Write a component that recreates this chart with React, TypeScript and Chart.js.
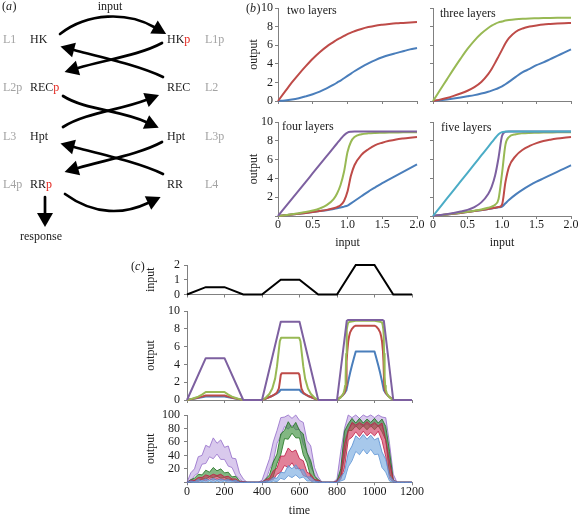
import React, { useEffect, useRef } from 'react';
import { Chart, registerables } from 'chart.js';

Chart.register(...registerables);

const SERIF = '"Liberation Serif", "Times New Roman", Times, serif';
const TEXT = '#1a1a1a';
const GREY_TEXT = '#a3a3a3';
const RED_TEXT = '#e3261f';
const AXIS = '#808080';

const BLUE = '#4a7ebb';
const RED = '#be4b48';
const GREEN = '#98b954';
const PURPLE = '#7d60a0';
const CYAN = '#4bacc6';

// ---------- panel (b): output vs input ----------
const B_INPUT = [0, 0.1, 0.2, 0.3, 0.4, 0.5, 0.6, 0.7, 0.8, 0.85, 0.9, 0.95, 1.0, 1.05, 1.1, 1.2, 1.3, 1.4, 1.5, 1.6, 1.7, 1.8, 1.9, 2.0];

const TWO_RED = [0, 1.0, 2.0, 2.9, 3.75, 4.55, 5.25, 5.85, 6.35, 6.6, 6.8, 7.0, 7.2, 7.35, 7.5, 7.75, 7.95, 8.1, 8.2, 8.28, 8.35, 8.4, 8.45, 8.5];
const TWO_BLUE = [0, 0.05, 0.15, 0.3, 0.5, 0.72, 1.0, 1.35, 1.75, 1.98, 2.2, 2.45, 2.7, 2.95, 3.2, 3.65, 4.05, 4.4, 4.7, 4.95, 5.15, 5.35, 5.55, 5.7];

const THREE_GREEN = [0, 1.15, 2.3, 3.45, 4.55, 5.6, 6.5, 7.25, 7.85, 8.1, 8.3, 8.45, 8.55, 8.65, 8.72, 8.8, 8.85, 8.88, 8.9, 8.92, 8.93, 8.94, 8.95, 8.95];
const THREE_RED = [0, 0.15, 0.33, 0.55, 0.8, 1.1, 1.5, 2.05, 2.9, 3.45, 4.1, 4.8, 5.5, 6.2, 6.75, 7.45, 7.8, 8.0, 8.12, 8.22, 8.28, 8.33, 8.37, 8.4];
const THREE_BLUE = [0, 0.08, 0.17, 0.27, 0.38, 0.5, 0.63, 0.8, 1.0, 1.12, 1.25, 1.4, 1.58, 1.8, 2.05, 2.6, 3.1, 3.45, 3.85, 4.15, 4.5, 4.85, 5.2, 5.55];

const FOUR_PURPLE = [0, 0.91, 1.82, 2.73, 3.64, 4.55, 5.46, 6.37, 7.28, 7.73, 8.18, 8.6, 8.88, 8.97, 9.0, 9.0, 9.0, 9.0, 9.0, 9.0, 9.0, 9.0, 9.0, 9.0];
const FOUR_GREEN = [0, 0.08, 0.18, 0.3, 0.42, 0.58, 0.8, 1.15, 1.8, 2.4, 3.3, 4.7, 6.8, 7.9, 8.4, 8.7, 8.8, 8.84, 8.86, 8.88, 8.89, 8.9, 8.9, 8.9];
const FOUR_RED = [0, 0.07, 0.15, 0.23, 0.32, 0.42, 0.53, 0.65, 0.82, 0.95, 1.15, 1.6, 2.6, 4.3, 5.4, 6.5, 7.1, 7.55, 7.8, 8.0, 8.15, 8.25, 8.33, 8.4];
const FOUR_BLUE = [0, 0.07, 0.15, 0.23, 0.32, 0.42, 0.52, 0.62, 0.75, 0.82, 0.9, 1.0, 1.1, 1.35, 1.6, 2.1, 2.6, 3.05, 3.5, 3.9, 4.3, 4.7, 5.1, 5.5];

const FIVE_CYAN = [0, 0.92, 1.84, 2.76, 3.68, 4.6, 5.52, 6.44, 7.36, 7.82, 8.28, 8.7, 8.92, 8.98, 9.0, 9.0, 9.0, 9.0, 9.0, 9.0, 9.0, 9.0, 9.0, 9.0];
const FIVE_PURPLE = [0, 0.1, 0.2, 0.32, 0.47, 0.65, 0.95, 1.45, 2.35, 3.1, 4.3, 6.2, 8.5, 8.95, 8.98, 8.98, 8.98, 8.98, 8.98, 8.98, 8.98, 8.98, 8.98, 8.98];
const FIVE_GREEN = [0, 0.08, 0.17, 0.26, 0.36, 0.46, 0.57, 0.7, 0.88, 1.0, 1.2, 1.8, 4.5, 7.6, 8.4, 8.7, 8.8, 8.84, 8.86, 8.88, 8.89, 8.9, 8.9, 8.9];
const FIVE_RED = [0, 0.07, 0.15, 0.23, 0.32, 0.42, 0.52, 0.63, 0.75, 0.82, 0.88, 0.95, 1.2, 3.6, 5.2, 6.4, 7.05, 7.45, 7.75, 7.97, 8.12, 8.24, 8.33, 8.4];
const FIVE_BLUE = [0, 0.07, 0.15, 0.23, 0.32, 0.42, 0.52, 0.62, 0.73, 0.8, 0.86, 0.92, 1.0, 1.35, 1.7, 2.3, 2.8, 3.25, 3.65, 4.0, 4.35, 4.7, 5.05, 5.4];

const B_X_TICKS = ['0', '0.5', '1.0', '1.5', '2.0'];
const B_Y_TICKS = ['0', '2', '4', '6', '8', '10'];
const B_Y_TICKS_NO_ZERO = ['', '2', '4', '6', '8', '10'];

// ---------- panel (c): time courses ----------
const C_INPUT_T = [0, 100, 200, 300, 400, 500, 600, 700, 800, 900, 1000, 1100, 1200];
const C_INPUT_V = [0, 0.5, 0.5, 0, 0, 1, 1, 0, 0, 2, 2, 0, 0];

const C_PURPLE_T = [0, 100, 200, 300, 400, 500, 600, 700, 800, 852, 860, 1042, 1050, 1100, 1200];
const C_PURPLE_V = [0, 4.7, 4.7, 0, 0, 8.8, 8.8, 0, 0, 8.9, 9.0, 9.0, 8.9, 0, 0];

const C_GREEN_T = [0, 20, 40, 60, 80, 100, 200, 220, 240, 260, 280, 300,
  400, 420, 440, 455, 470, 480, 488, 495, 502, 598, 605, 612, 620, 630, 645, 660, 680, 700,
  800, 820, 830, 835, 840, 843, 846, 849, 851, 853, 856, 860, 870, 900,
  1000, 1030, 1040, 1044, 1047, 1049, 1051, 1054, 1057, 1060, 1065, 1070, 1080, 1100, 1200];
const C_GREEN_V = [0, 0.1, 0.22, 0.38, 0.6, 0.9, 0.9, 0.6, 0.38, 0.22, 0.1, 0,
  0, 0.25, 0.7, 1.3, 2.4, 3.8, 5.3, 6.6, 7.0, 7.0, 6.6, 5.3, 3.8, 2.4, 1.3, 0.7, 0.25, 0,
  0, 0.3, 0.58, 0.8, 1.15, 1.6, 2.6, 5.2, 7.3, 7.95, 8.4, 8.7, 8.8, 8.9,
  8.9, 8.8, 8.7, 8.4, 7.95, 7.3, 5.2, 2.6, 1.6, 1.15, 0.8, 0.58, 0.3, 0, 0];

const C_RED_T = [0, 25, 50, 75, 100, 200, 225, 250, 275, 300,
  400, 450, 470, 480, 490, 495, 500, 505, 595, 600, 605, 610, 620, 630, 650, 700,
  800, 825, 840, 845, 848, 850, 852, 855, 860, 865, 870, 880, 890, 900,
  1000, 1010, 1020, 1030, 1035, 1040, 1045, 1048, 1050, 1052, 1055, 1060, 1075, 1100, 1200];
const C_RED_V = [0, 0.1, 0.22, 0.35, 0.5, 0.5, 0.35, 0.22, 0.1, 0,
  0, 0.42, 0.65, 0.85, 1.3, 2.0, 2.8, 3.0, 3.0, 2.8, 2.0, 1.3, 0.85, 0.65, 0.42, 0,
  0, 0.42, 0.82, 1.15, 1.6, 2.8, 4.3, 5.5, 6.6, 7.2, 7.6, 8.0, 8.25, 8.35,
  8.35, 8.25, 8.0, 7.6, 7.2, 6.6, 5.5, 4.3, 2.8, 1.6, 1.15, 0.82, 0.42, 0, 0];

const C_BLUE_T = [0, 50, 100, 200, 250, 300,
  400, 450, 480, 490, 500, 600, 610, 620, 650, 700,
  800, 825, 840, 850, 860, 870, 880, 890, 900,
  1000, 1010, 1020, 1030, 1040, 1050, 1060, 1075, 1100, 1200];
const C_BLUE_V = [0, 0.2, 0.38, 0.38, 0.2, 0,
  0, 0.42, 0.75, 0.9, 1.15, 1.15, 0.9, 0.75, 0.42, 0,
  0, 0.42, 0.75, 1.1, 2.1, 3.05, 3.9, 4.7, 5.45,
  5.45, 4.7, 3.9, 3.05, 2.1, 1.1, 0.75, 0.42, 0, 0];

// stochastic simulation: band of the noisy trace (low / high) on a 20-step time grid
const NOISE_T = [0, 20, 40, 60, 80, 100, 120, 140, 160, 180, 200, 220, 240, 260, 280, 300, 320, 340, 360, 380,
  400, 420, 440, 460, 480, 500, 520, 540, 560, 580, 600, 620, 640, 660, 680, 700, 720, 740, 760, 780,
  800, 820, 840, 860, 880, 900, 920, 940, 960, 980, 1000, 1020, 1040, 1060, 1080, 1100, 1120, 1140, 1160, 1180, 1200];
const N_PURPLE_HI = [0, 14, 20, 38, 40, 55, 52, 66, 58, 63, 52, 54, 36, 35, 14, 5, 0, 0, 0, 0,
  3, 19, 35, 60, 77, 96, 97, 100, 95, 100, 92, 89, 62, 54, 22, 8, 0, 0, 0, 0,
  5, 46, 80, 100, 96, 100, 95, 100, 97, 100, 96, 100, 97, 96, 58, 12, 0, 0, 0, 0, 0];
const N_PURPLE_LO = [0, 1, 10, 14, 27, 28, 38, 35, 42, 34, 34, 24, 22, 10, 5, 0, 0, 0, 0, 0,
  0, 3, 19, 31, 58, 69, 83, 79, 85, 78, 79, 57, 45, 23, 12, 0, 0, 0, 0, 0,
  0, 15, 60, 77, 87, 82, 87, 83, 87, 82, 87, 83, 85, 66, 35, 0, 0, 0, 0, 0, 0];
const N_GREEN_HI = [0, 4, 6, 12, 11, 18, 15, 22, 17, 20, 14, 15, 8, 9, 2, 1, 0, 0, 0, 0,
  0, 5, 11, 30, 42, 72, 77, 90, 81, 89, 77, 72, 44, 32, 9, 4, 0, 0, 0, 0,
  2, 20, 76, 87, 95, 88, 95, 88, 94, 89, 95, 88, 94, 83, 46, 4, 0, 0, 0, 0, 0];
const N_GREEN_LO = [0, 0, 2, 2, 5, 5, 8, 7, 9, 6, 7, 4, 4, 0, 1, 0, 0, 0, 0, 0,
  0, 0, 4, 8, 28, 41, 65, 64, 73, 66, 66, 41, 29, 8, 4, 0, 0, 0, 0, 0,
  0, 7, 38, 77, 77, 84, 78, 84, 78, 84, 78, 84, 75, 63, 12, 0, 0, 0, 0, 0, 0];
const N_RED_HI = [0, 3, 3, 7, 7, 11, 9, 12, 10, 12, 8, 9, 5, 5, 1, 1, 0, 0, 0, 0,
  0, 4, 6, 17, 21, 39, 39, 51, 45, 48, 35, 32, 15, 12, 4, 3, 0, 0, 0, 0,
  2, 10, 56, 77, 89, 85, 89, 85, 90, 85, 89, 84, 88, 62, 30, 4, 0, 0, 0, 0, 0];
const N_RED_LO = [0, 0, 2, 1, 4, 2, 5, 3, 5, 3, 4, 2, 3, 0, 1, 0, 0, 0, 0, 0,
  0, 0, 3, 4, 12, 15, 25, 22, 29, 20, 21, 10, 8, 2, 2, 0, 0, 0, 0, 0,
  0, 4, 22, 63, 67, 75, 68, 76, 69, 74, 69, 76, 62, 38, 6, 0, 0, 0, 0, 0, 0];
const N_BLUE_HI = [0, 2, 1, 4, 2, 5, 3, 6, 3, 5, 3, 4, 2, 3, 0, 0, 0, 0, 0, 0,
  0, 2, 2, 7, 6, 15, 14, 25, 20, 26, 18, 19, 8, 8, 2, 1, 0, 0, 0, 0,
  0, 8, 15, 44, 54, 69, 64, 71, 64, 70, 63, 66, 45, 34, 10, 3, 0, 0, 0, 0, 0];
const N_BLUE_LO = [0, 0, 0, 0, 1, 0, 2, 0, 2, 0, 2, 0, 1, 0, 0, 0, 0, 0, 0, 0,
  0, 0, 0, 2, 1, 6, 4, 10, 7, 11, 6, 8, 2, 2, 0, 0, 0, 0, 0, 0,
  0, 2, 4, 23, 32, 46, 41, 49, 42, 49, 41, 42, 22, 15, 2, 0, 0, 0, 0, 0, 0];

const C_X_TICKS = ['0', '200', '400', '600', '800', '1000', '1200'];
const C_IN_Y_TICKS = ['0', '1', '2'];
const C_OUT_Y_TICKS = ['0', '2', '4', '6', '8', '10'];
const C_NOISE_Y_TICKS = ['', '20', '40', '60', '80', '100'];

// ---------- layout helpers ----------
type Rect = { l: number; t: number; w: number; h: number };
type Plot = { l: number; t: number; r: number; b: number };
type AxisSpec = { min: number; max: number; step: number; labels?: string[]; title?: string; tickLen: number; pad: number };

const HALF_LINE = 7.2;
const FONT = { family: SERIF, size: 12 };

function zeroPad(s: any) {
  s.paddingLeft = 0; s.paddingRight = 0; s.paddingTop = 0; s.paddingBottom = 0;
}

function axis(spec: AxisSpec, fit: (s: any) => void) {
  return {
    type: 'linear',
    min: spec.min,
    max: spec.max,
    ticks: {
      stepSize: spec.step,
      display: !!spec.labels,
      padding: spec.pad,
      color: TEXT,
      font: FONT,
      maxRotation: 0,
      minRotation: 0,
      autoSkip: false,
      callback: (_v: any, i: number) => (spec.labels ? spec.labels[i] : ''),
    },
    grid: { display: true, drawOnChartArea: false, drawTicks: true, tickLength: spec.tickLen, color: AXIS, lineWidth: 1 },
    border: { display: true, color: AXIS, width: 1 },
    title: { display: !!spec.title, text: spec.title || '', color: TEXT, font: FONT, padding: 0 },
    afterFit: fit,
  };
}

function baseOptions(canvas: Rect, plot: Plot, xs: AxisSpec, ys: AxisSpec, yTitleX?: number) {
  const padLeft = ys.title && yTitleX !== undefined ? yTitleX - HALF_LINE - canvas.l : 0;
  const yWidth = plot.l - canvas.l - padLeft;
  const padTop = plot.t - canvas.t;
  const padRight = canvas.l + canvas.w - plot.r;
  const xHeight = canvas.t + canvas.h - plot.b;
  return {
    responsive: false,
    maintainAspectRatio: false,
    animation: false,
    devicePixelRatio: 1,
    events: [],
    layout: { padding: { left: padLeft, top: padTop, right: padRight, bottom: 0 } },
    plugins: { legend: { display: false }, tooltip: { enabled: false } },
    elements: { point: { radius: 0 } },
    scales: {
      x: axis(xs, (s: any) => { s.height = xHeight; zeroPad(s); }),
      y: axis(ys, (s: any) => { s.width = yWidth; zeroPad(s); }),
    },
  };
}

function pairs(xs: number[], ys: number[]) {
  return xs.map((x, i) => ({ x, y: ys[i] }));
}

function textPlugin(text: string, dx: number, dy: number) {
  return {
    id: 'panelText',
    afterDraw(chart: any) {
      const { ctx, chartArea } = chart;
      ctx.save();
      ctx.font = `12px ${SERIF}`;
      ctx.fillStyle = TEXT;
      ctx.textBaseline = 'middle';
      ctx.textAlign = 'left';
      ctx.fillText(text, chartArea.left + dx, chartArea.top + dy);
      ctx.restore();
    },
  };
}

// ---------- panel (b) definitions ----------
type BPanel = {
  title: string; dx: number; dy: number; canvas: Rect; plot: Plot;
  series: [number[], string][]; yLabels?: string[]; xLabels?: string[]; yTitle?: string; xTitle?: string;
};

const B_PANELS: BPanel[] = [
  { title: 'two layers', dx: 9, dy: 3, canvas: { l: 240, t: 0, w: 190, h: 110 }, plot: { l: 278, t: 8, r: 417, b: 101 },
    series: [[TWO_RED, RED], [TWO_BLUE, BLUE]], yLabels: B_Y_TICKS, yTitle: 'output' },
  { title: 'three layers', dx: 7, dy: 6, canvas: { l: 425, t: 0, w: 153, h: 110 }, plot: { l: 433, t: 8, r: 571, b: 101 },
    series: [[THREE_GREEN, GREEN], [THREE_RED, RED], [THREE_BLUE, BLUE]] },
  { title: 'four layers', dx: 4, dy: 4.5, canvas: { l: 240, t: 110, w: 190, h: 140 }, plot: { l: 278, t: 122, r: 417, b: 216 },
    series: [[FOUR_PURPLE, PURPLE], [FOUR_GREEN, GREEN], [FOUR_RED, RED], [FOUR_BLUE, BLUE]],
    yLabels: B_Y_TICKS_NO_ZERO, xLabels: B_X_TICKS, yTitle: 'output', xTitle: 'input' },
  { title: 'five layers', dx: 8, dy: 6, canvas: { l: 425, t: 110, w: 153, h: 140 }, plot: { l: 433, t: 122, r: 571, b: 216 },
    series: [[FIVE_CYAN, CYAN], [FIVE_PURPLE, PURPLE], [FIVE_GREEN, GREEN], [FIVE_RED, RED], [FIVE_BLUE, BLUE]],
    xLabels: B_X_TICKS, xTitle: 'input' },
];

function bConfig(p: BPanel) {
  const xs: AxisSpec = { min: 0, max: 2, step: 0.5, labels: p.xLabels, title: p.xTitle, tickLen: 3, pad: -1 };
  const ys: AxisSpec = { min: 0, max: 10, step: 2, labels: p.yLabels, title: p.yTitle, tickLen: 3, pad: 2 };
  return {
    type: 'line',
    data: {
      datasets: p.series.map(([vals, color]) => ({
        data: pairs(B_INPUT, vals),
        borderColor: color,
        borderWidth: 2,
        cubicInterpolationMode: 'monotone',
        pointRadius: 0,
        fill: false,
        clip: false,
      })),
    },
    options: baseOptions(p.canvas, p.plot, xs, ys, 254),
    plugins: [textPlugin(p.title, p.dx, p.dy)],
  };
}

// ---------- panel (c) definitions ----------
const C_TITLE_X = 151;
const C_IN_CANVAS: Rect = { l: 140, t: 255, w: 290, h: 45 };
const C_IN_PLOT: Plot = { l: 187, t: 265, r: 412, b: 294.5 };
const C_OUT_CANVAS: Rect = { l: 140, t: 300, w: 290, h: 106 };
const C_OUT_PLOT: Plot = { l: 187, t: 311, r: 412, b: 400 };
const C_NOISE_CANVAS: Rect = { l: 140, t: 404, w: 300, h: 114 };
const C_NOISE_PLOT: Plot = { l: 187, t: 415, r: 412, b: 482.3 };

function inputConfig() {
  const xs: AxisSpec = { min: 0, max: 1200, step: 200, tickLen: 3, pad: 0 };
  const ys: AxisSpec = { min: 0, max: 2, step: 1, labels: C_IN_Y_TICKS, title: 'input', tickLen: 3, pad: 4 };
  return {
    type: 'line',
    data: { datasets: [{ data: pairs(C_INPUT_T, C_INPUT_V), borderColor: '#000', borderWidth: 2, tension: 0, pointRadius: 0, clip: false }] },
    options: baseOptions(C_IN_CANVAS, C_IN_PLOT, xs, ys, C_TITLE_X),
  };
}

function outputConfig() {
  const xs: AxisSpec = { min: 0, max: 1200, step: 200, tickLen: 3, pad: 0 };
  const ys: AxisSpec = { min: 0, max: 10, step: 2, labels: C_OUT_Y_TICKS, title: 'output', tickLen: 3, pad: 4 };
  const line = (t: number[], v: number[], color: string) => ({
    data: pairs(t, v), borderColor: color, borderWidth: 2, tension: 0, pointRadius: 0, clip: false, borderJoinStyle: 'round',
  });
  return {
    type: 'line',
    data: {
      datasets: [
        line(C_PURPLE_T, C_PURPLE_V, PURPLE),
        line(C_GREEN_T, C_GREEN_V, GREEN),
        line(C_RED_T, C_RED_V, RED),
        line(C_BLUE_T, C_BLUE_V, BLUE),
      ],
    },
    options: baseOptions(C_OUT_CANVAS, C_OUT_PLOT, xs, ys, C_TITLE_X),
  };
}

function noiseConfig() {
  const xs: AxisSpec = { min: 0, max: 1200, step: 200, labels: C_X_TICKS, title: 'time', tickLen: 3, pad: -1 };
  const ys: AxisSpec = { min: 0, max: 100, step: 20, labels: C_NOISE_Y_TICKS, title: 'output', tickLen: 3, pad: 4 };
  const band = (hi: number[], lo: number[], fillColor: string, edge: string) => [
    { data: pairs(NOISE_T, hi), borderColor: edge, borderWidth: 1, backgroundColor: fillColor, fill: '+1', tension: 0, pointRadius: 0, clip: false },
    { data: pairs(NOISE_T, lo), borderColor: edge, borderWidth: 1, backgroundColor: fillColor, fill: false, tension: 0, pointRadius: 0, clip: false },
  ];
  return {
    type: 'line',
    data: {
      datasets: [
        ...band(N_BLUE_HI, N_BLUE_LO, 'rgba(120,170,225,0.65)', 'rgba(90,145,210,0.85)'),
        ...band(N_RED_HI, N_RED_LO, 'rgba(205,45,85,0.6)', 'rgba(190,30,70,0.85)'),
        ...band(N_GREEN_HI, N_GREEN_LO, 'rgba(46,135,46,0.6)', 'rgba(35,115,35,0.85)'),
        ...band(N_PURPLE_HI, N_PURPLE_LO, 'rgba(170,135,215,0.45)', 'rgba(145,105,200,0.8)'),
      ],
    },
    options: baseOptions(C_NOISE_CANVAS, C_NOISE_PLOT, xs, ys, C_TITLE_X),
  };
}

// ---------- panel (a): diagram ----------
type Pt = [number, number];
type Seg = [string, string];
const DIAGRAM_ROWS: { y: number; leftTag: string; left: Seg[]; right: Seg[]; rightTag: string }[] = [
  { y: 40, leftTag: 'L1', left: [['HK', TEXT]], right: [['HK', TEXT], ['p', RED_TEXT]], rightTag: 'L1p' },
  { y: 88, leftTag: 'L2p', left: [['REC', TEXT], ['p', RED_TEXT]], right: [['REC', TEXT]], rightTag: 'L2' },
  { y: 137, leftTag: 'L3', left: [['Hpt', TEXT]], right: [['Hpt', TEXT]], rightTag: 'L3p' },
  { y: 185, leftTag: 'L4p', left: [['RR', TEXT], ['p', RED_TEXT]], right: [['RR', TEXT]], rightTag: 'L4' },
];
const DIAGRAM_ARROWS: { p0: Pt; c1: Pt; c2: Pt; p3: Pt }[] = [
  { p0: [60, 34], c1: [88, 12], c2: [128, 12], p3: [154, 27] },
  { p0: [162, 43], c1: [140, 55], c2: [105, 60], p3: [78, 68] },
  { p0: [163, 77], c1: [140, 66], c2: [105, 58], p3: [74, 50] },
  { p0: [63, 96], c1: [85, 110], c2: [120, 110], p3: [146, 122] },
  { p0: [63, 127], c1: [85, 113], c2: [120, 110], p3: [146, 100] },
  { p0: [162, 142], c1: [140, 154], c2: [105, 160], p3: [78, 168] },
  { p0: [163, 174], c1: [140, 163], c2: [105, 155], p3: [74, 147] },
  { p0: [65, 194], c1: [95, 216], c2: [125, 214], p3: [148, 203] },
];

function richText(ctx: CanvasRenderingContext2D, segs: Seg[], x: number, y: number) {
  let cx = x;
  for (const [s, c] of segs) {
    ctx.fillStyle = c;
    ctx.fillText(s, cx, y);
    cx += ctx.measureText(s).width;
  }
}

function panelLetter(ctx: CanvasRenderingContext2D, letter: string, x: number, y: number) {
  ctx.fillStyle = TEXT;
  ctx.font = `12px ${SERIF}`;
  ctx.fillText('(', x, y);
  let w = ctx.measureText('(').width;
  ctx.font = `italic 12px ${SERIF}`;
  ctx.fillText(letter, x + w, y);
  w += ctx.measureText(letter).width + 0.5;
  ctx.font = `12px ${SERIF}`;
  ctx.fillText(')', x + w, y);
}

function head(ctx: CanvasRenderingContext2D, base: Pt, ang: number, len: number, hw: number) {
  const cos = Math.cos(ang), sin = Math.sin(ang);
  const tip: Pt = [base[0] + len * cos, base[1] + len * sin];
  ctx.beginPath();
  ctx.moveTo(tip[0], tip[1]);
  ctx.lineTo(base[0] - hw * sin, base[1] + hw * cos);
  ctx.lineTo(base[0] + hw * sin, base[1] - hw * cos);
  ctx.closePath();
  ctx.fill();
}

function drawDiagram(ctx: CanvasRenderingContext2D) {
  ctx.save();
  ctx.textBaseline = 'middle';
  ctx.textAlign = 'left';
  panelLetter(ctx, 'a', 2, 7);
  panelLetter(ctx, 'b', 246, 9);
  panelLetter(ctx, 'c', 131, 267);

  ctx.font = `12px ${SERIF}`;
  ctx.fillStyle = TEXT;
  ctx.textAlign = 'center';
  ctx.fillText('input', 110, 7);
  ctx.fillText('response', 41, 237);
  ctx.textAlign = 'left';
  for (const row of DIAGRAM_ROWS) {
    ctx.fillStyle = GREY_TEXT;
    ctx.fillText(row.leftTag, 3, row.y);
    ctx.fillText(row.rightTag, 205, row.y);
    richText(ctx, row.left, 30, row.y);
    richText(ctx, row.right, 167, row.y);
  }

  ctx.strokeStyle = '#000';
  ctx.fillStyle = '#000';
  ctx.lineWidth = 2.7;
  ctx.lineCap = 'round';
  for (const a of DIAGRAM_ARROWS) {
    ctx.beginPath();
    ctx.moveTo(a.p0[0], a.p0[1]);
    ctx.bezierCurveTo(a.c1[0], a.c1[1], a.c2[0], a.c2[1], a.p3[0], a.p3[1]);
    ctx.stroke();
    const ang = Math.atan2(a.p3[1] - a.c2[1], a.p3[0] - a.c2[0]);
    head(ctx, a.p3, ang, 14, 7.5);
  }
  // response arrow
  ctx.beginPath();
  ctx.moveTo(45, 197);
  ctx.lineTo(45, 214);
  ctx.stroke();
  head(ctx, [45, 213], Math.PI / 2, 14, 8);
  ctx.restore();
}

function diagramConfig() {
  return {
    type: 'scatter',
    data: { datasets: [] },
    options: {
      responsive: false,
      maintainAspectRatio: false,
      animation: false,
      devicePixelRatio: 1,
      events: [],
      plugins: { legend: { display: false }, tooltip: { enabled: false } },
      scales: { x: { display: false }, y: { display: false } },
    },
    plugins: [{ id: 'diagram', afterDraw: (chart: any) => drawDiagram(chart.ctx) }],
  };
}

// ---------- React ----------
function ChartCanvas({ rect, make }: { rect: Rect; make: () => any }) {
  const ref = useRef<HTMLCanvasElement | null>(null);
  useEffect(() => {
    if (!ref.current) return;
    const chart = new Chart(ref.current, make());
    return () => chart.destroy();
  }, []);
  return (
    <canvas
      ref={ref}
      width={rect.w}
      height={rect.h}
      style={{ position: 'absolute', left: rect.l, top: rect.t, width: rect.w, height: rect.h }}
    />
  );
}

export default function App() {
  return (
    <div style={{ position: 'absolute', left: 0, top: 0, width: 578, height: 517, overflow: 'hidden', background: '#fff' }}>
      <ChartCanvas rect={{ l: 0, t: 0, w: 578, h: 517 }} make={diagramConfig} />
      {B_PANELS.map((p) => (
        <ChartCanvas key={p.title} rect={p.canvas} make={() => bConfig(p)} />
      ))}
      <ChartCanvas rect={C_IN_CANVAS} make={inputConfig} />
      <ChartCanvas rect={C_OUT_CANVAS} make={outputConfig} />
      <ChartCanvas rect={C_NOISE_CANVAS} make={noiseConfig} />
    </div>
  );
}
